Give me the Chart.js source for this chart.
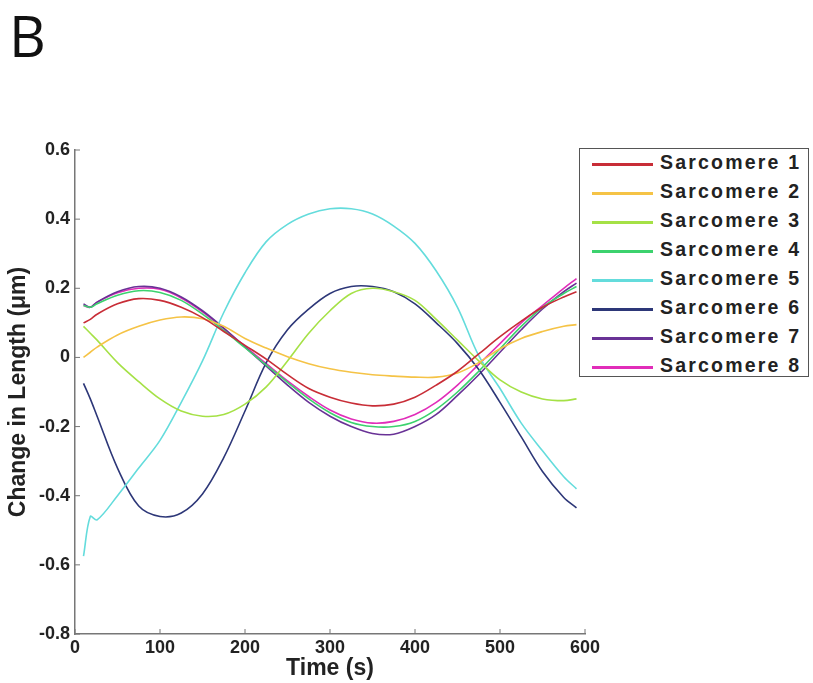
<!DOCTYPE html>
<html>
<head>
<meta charset="utf-8">
<script src="https://cdn.jsdelivr.net/npm/chart.js@4"></script>
<style>
  body { margin: 0; background: #fff; }
  #wrap { position: relative; width: 813px; height: 683px; }
  #panel { position: absolute; left: 9px; top: -4px; font-family: "Open Sans", sans-serif; font-size: 57px; color: #111; }
  #legend { position: absolute; left: 579px; top: 148px; width: 230px; height: 229px; border: 1.5px solid #555; background: #fff; box-sizing: border-box; }
  .item { position: absolute; left: 0; height: 29px; width: 100%; }
  .item .sw { position: absolute; left: 12px; top: 13px; width: 61px; height: 3px; }
  .item .tx { position: absolute; left: 80px; top: 1px; font-family: "Liberation Sans", Arial, sans-serif; font-weight: bold; font-size: 19.5px; letter-spacing: 2.2px; color: #222; }
</style>
</head>
<body>
<div id="wrap">
  <canvas id="myChart" width="813" height="683"></canvas>
  <div id="panel">B</div>
  <div id="legend"></div>
</div>
<script>
// time points (s)
const times = [10, 18, 26, 50, 75, 100, 125, 150, 175, 200, 225, 250, 275, 300, 325, 350, 375, 400, 425, 450, 475, 500, 525, 550, 575, 590];

const sarc1 = [0.10, 0.11, 0.125, 0.155, 0.17, 0.165, 0.145, 0.115, 0.075, 0.035, -0.005, -0.05, -0.09, -0.115, -0.132, -0.14, -0.135, -0.115, -0.08, -0.04, 0.01, 0.06, 0.105, 0.145, 0.175, 0.19];
const sarc2 = [0.0, 0.015, 0.03, 0.065, 0.09, 0.108, 0.117, 0.112, 0.09, 0.055, 0.027, 0.002, -0.018, -0.033, -0.043, -0.05, -0.054, -0.057, -0.057, -0.045, -0.015, 0.025, 0.055, 0.075, 0.09, 0.095];
const sarc3 = [0.09, 0.07, 0.05, -0.015, -0.07, -0.12, -0.155, -0.17, -0.165, -0.135, -0.085, -0.01, 0.07, 0.135, 0.185, 0.2, 0.19, 0.165, 0.11, 0.05, -0.01, -0.065, -0.1, -0.12, -0.125, -0.12];
const sarc4 = [0.15, 0.145, 0.155, 0.18, 0.193, 0.188, 0.165, 0.125, 0.078, 0.028, -0.022, -0.072, -0.12, -0.16, -0.188, -0.2, -0.2, -0.185, -0.15, -0.1, -0.04, 0.025, 0.09, 0.145, 0.185, 0.205];
const sarc5 = [-0.575, -0.46, -0.47, -0.40, -0.32, -0.24, -0.13, -0.01, 0.13, 0.245, 0.335, 0.385, 0.415, 0.43, 0.43, 0.415, 0.38, 0.33, 0.25, 0.145, 0.005, -0.09, -0.19, -0.27, -0.345, -0.38];
const sarc6 = [-0.075, -0.12, -0.17, -0.32, -0.43, -0.46, -0.45, -0.395, -0.29, -0.155, -0.015, 0.08, 0.14, 0.185, 0.205, 0.205, 0.19, 0.155, 0.1, 0.04, -0.035, -0.13, -0.23, -0.33, -0.405, -0.435];
const sarc7 = [0.155, 0.145, 0.16, 0.19, 0.205, 0.2, 0.175, 0.135, 0.085, 0.03, -0.025, -0.08, -0.13, -0.17, -0.2, -0.22, -0.222, -0.2, -0.165, -0.11, -0.05, 0.015, 0.08, 0.14, 0.19, 0.215];
const sarc8 = [0.15, 0.145, 0.16, 0.187, 0.2, 0.197, 0.172, 0.132, 0.083, 0.032, -0.018, -0.068, -0.113, -0.152, -0.178, -0.19, -0.185, -0.165, -0.13, -0.08, -0.02, 0.04, 0.1, 0.15, 0.2, 0.228];

const names = ['Sarcomere 1', 'Sarcomere 2', 'Sarcomere 3', 'Sarcomere 4', 'Sarcomere 5', 'Sarcomere 6', 'Sarcomere 7', 'Sarcomere 8'];
const series = [sarc1, sarc2, sarc3, sarc4, sarc5, sarc6, sarc7, sarc8];
const colors = ['rgb(200,45,55)', 'rgb(245,195,70)', 'rgb(165,225,70)', 'rgb(60,210,110)', 'rgb(100,220,220)', 'rgb(45,55,120)', 'rgb(105,50,150)', 'rgb(225,45,185)'];
const yTicks = [-0.8, -0.6, -0.4, -0.2, 0, 0.2, 0.4, 0.6];
const xTicks = [0, 100, 200, 300, 400, 500, 600];

const datasets = series.map((vals, i) => ({
    label: names[i],
    data: vals.map((v, j) => ({ x: times[j], y: v })),
    borderColor: colors[i],
    borderWidth: 1.6,
    pointRadius: 0,
    tension: 0.35,
    fill: false
}));

// inward tick marks like the original
const innerTicks = {
    id: 'innerTicks',
    afterDraw(chart) {
        const ctx = chart.ctx;
        const xs = chart.scales.x, ys = chart.scales.y;
        ctx.save();
        ctx.strokeStyle = '#777';
        ctx.lineWidth = 1;
        xTicks.forEach(t => {
            const px = xs.getPixelForValue(t);
            ctx.beginPath(); ctx.moveTo(px, ys.bottom); ctx.lineTo(px, ys.bottom - 5); ctx.stroke();
        });
        yTicks.forEach(t => {
            const py = ys.getPixelForValue(t);
            ctx.beginPath(); ctx.moveTo(xs.left, py); ctx.lineTo(xs.left + 5, py); ctx.stroke();
        });
        ctx.restore();
    }
};

const tickFont = { family: '"Liberation Sans", Arial, sans-serif', size: 18, weight: 'bold' };
const titleFont = { family: '"Liberation Sans", Arial, sans-serif', size: 23, weight: 'bold' };

new Chart(document.getElementById('myChart'), {
    type: 'line',
    data: { datasets: datasets },
    options: {
        responsive: false,
        animation: false,
        layout: { padding: { left: 0, top: 150, right: 228, bottom: 0 } },
        plugins: { legend: { display: false }, tooltip: { enabled: false } },
        scales: {
            x: {
                type: 'linear',
                min: 0, max: 600,
                afterFit: (s) => { s.height = 49; },
                afterBuildTicks: (s) => { s.ticks = xTicks.map(v => ({ value: v })); },
                grid: { display: false, drawTicks: false },
                border: { display: true, color: '#777', width: 1.5 },
                ticks: { color: '#222', font: tickFont, padding: 3, maxRotation: 0 },
                title: { display: true, text: 'Time (s)', color: '#222', font: titleFont, padding: { top: 0, bottom: 1 } }
            },
            y: {
                min: -0.8, max: 0.6,
                afterFit: (s) => { s.width = 75; },
                afterBuildTicks: (s) => { s.ticks = yTicks.map(v => ({ value: v })); },
                grid: { display: false, drawTicks: false },
                border: { display: true, color: '#777', width: 1.5 },
                ticks: { color: '#222', font: tickFont, padding: 5, callback: (v) => String(Number(v.toFixed(1))) },
                title: { display: true, text: 'Change in Length (\u03bcm)', color: '#222', font: titleFont, padding: { top: 5, bottom: 0 } }
            }
        }
    },
    plugins: [innerTicks]
});

// legend box built from the same arrays
const leg = document.getElementById('legend');
names.forEach((n, i) => {
    const row = document.createElement('div');
    row.className = 'item';
    row.style.top = (1 + i * 29) + 'px';
    row.innerHTML = '<div class="sw" style="background:' + colors[i] + '"></div><div class="tx">' + n + '</div>';
    leg.appendChild(row);
});
</script>
</body>
</html>
